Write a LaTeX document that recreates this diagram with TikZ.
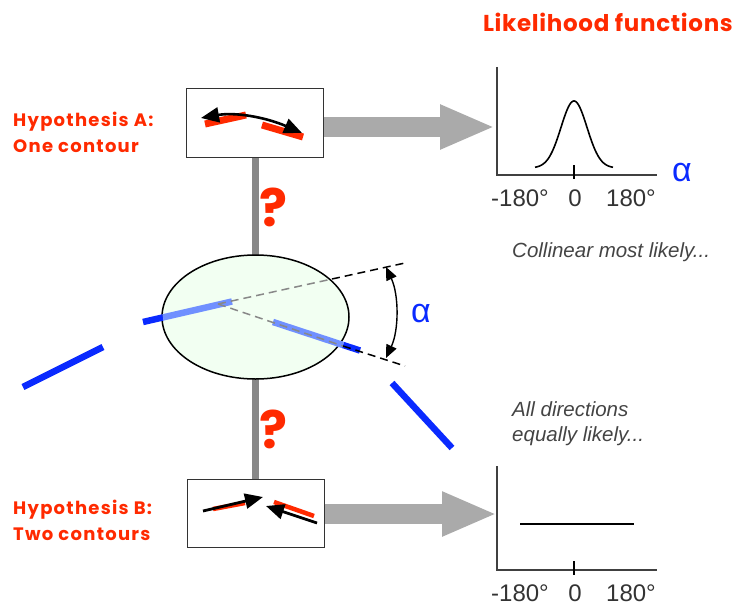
\documentclass[tikz,border=0pt]{standalone}
\usepackage{fontspec}
\setmainfont{Liberation Sans}
\newfontfamily\hypfont[LetterSpace=7]{Poppins}
\newfontfamily\titlefont[LetterSpace=3]{Poppins}
\newfontfamily\qfont{Poppins}
\usetikzlibrary{arrows.meta,calc,shapes.geometric}
\definecolor{hred}{HTML}{FF2A00}
\definecolor{sblue}{HTML}{0A2AFF}
\definecolor{lblue}{HTML}{7090FF}
\definecolor{agray}{HTML}{AAAAAA}
\definecolor{bgray}{HTML}{888888}
\definecolor{tgray}{HTML}{444444}
\definecolor{egreen}{HTML}{F2FFF2}
\tikzset{
  hyp/.style={text=hred, font=\hypfont\bfseries\fontsize{18}{26}\selectfont, align=left, anchor=west, inner sep=0pt},
  hbox/.style={draw=black!80, line width=1pt, fill=white, minimum width=137pt, minimum height=68pt, inner sep=0pt},
  bigarrow/.style={draw=agray, line width=20pt, -{Triangle[length=55pt,width=41pt]}},
  vbar/.style={draw=bgray, line width=7pt},
  qmark/.style={text=hred, font=\qfont\bfseries\fontsize{52}{52}\selectfont},
  seg/.style={line width=6.5pt},
  axis/.style={draw=black!75, line width=1.2pt},
  tick/.style={draw=black, line width=1.6pt},
  ticklab/.style={font=\fontsize{24}{24}\selectfont, text=black!80},
  alphalab/.style={text=sblue, font=\fontsize{34}{34}\selectfont},
  note/.style={font=\itshape\fontsize{20.5}{25}\selectfont, text=tgray, align=left, anchor=west, inner sep=0pt},
  dashline/.style={line width=1.5pt, dash pattern=on 8pt off 5pt},
  barrow/.style={line width=2.8pt, -{Triangle[length=18pt,width=15pt]}},
}
\begin{document}
\begin{tikzpicture}[x=1pt,y=-1pt]
\useasboundingbox (0,0) rectangle (735,607);

% title
\node[text=hred, font=\titlefont\bfseries\fontsize{23}{23}\selectfont, anchor=east, inner sep=0pt] (title) at (733,22) {Likelihood functions};

% hypothesis labels
\node[hyp] (hypA) at (13,132) {Hypothesis A:\\One contour};
\node[hyp] (hypB) at (13,520) {Hypothesis B:\\Two contours};

% vertical bars
\coordinate (barAtop) at (255.5,157);
\coordinate (barAbot) at (255.5,260);
\coordinate (barBtop) at (255.5,375);
\coordinate (barBbot) at (255.5,479);
\draw[vbar] (barAtop) -- (barAbot);
\draw[vbar] (barBtop) -- (barBbot);

% boxes
\node[hbox] (boxA) at (254.5,123) {};
\node[hbox] (boxB) at (255.5,513) {};

% question marks
\node[qmark] (q1) at (273,207) {?};
\node[qmark] (q2) at (273,429) {?};

% big gray arrows
\coordinate (arrA) at (495,127);
\coordinate (arrB) at (497,514);
\draw[bigarrow] (boxA.east |- arrA) -- (arrA);
\draw[bigarrow] (boxB.east |- arrB) -- (arrB);

% box A content
\draw[hred, line width=7pt] (205,124) -- (246,115);
\draw[hred, line width=7pt] (262,125) -- (303,137);
\coordinate (a1) at (201,118);
\coordinate (a2) at (302,133);
\draw[black, line width=2.6pt, {Triangle[length=18pt,width=15pt]}-{Triangle[length=18pt,width=15pt]}] (a1) .. controls (235,112) and (265,117) .. (a2);

% box B content
\draw[hred, line width=4.5pt] (213,509) -- (245,503);
\draw[barrow] (203,511) -- (263,497);
\draw[hred, line width=4.5pt] (274,502) -- (314,516);
\draw[barrow] (317,523) -- (266,506);

% ellipse
\node[draw=black, line width=1.5pt, fill=egreen, ellipse, minimum width=187pt, minimum height=124pt, inner sep=0pt] (ell) at (255.5,317) {};

% blue contour segments
\draw[sblue, seg] (23,387) -- (103,347);
\draw[sblue, seg] (392,383) -- (452,448);
\draw[sblue, seg] (143,322) -- (163,317.4);
\draw[lblue, seg] (163,317.4) -- (232,301.5);
\draw[sblue, seg] (343,345) -- (360,350.5);
\draw[lblue, seg] (273,322) -- (343,345);

% dashed lines
\coordinate (vtx) at (218,304);
\coordinate (upEnd) at (405,263);
\coordinate (loEnd) at (405,366);
\coordinate (upE) at (332,279);
\coordinate (loE) at (343,346);
\draw[bgray, dashline] (vtx) -- (upE);
\draw[black, dashline] (upE) -- (upEnd);
\draw[bgray, dashline] (vtx) -- (loE);
\draw[black, dashline] (loE) -- (loEnd);

% angle arc
\coordinate (arc1) at (386,267);
\coordinate (arc2) at (386,358);
\draw[black, line width=1.4pt, {Triangle[length=13pt,width=11pt]}-{Triangle[length=13pt,width=11pt]}] (arc1) .. controls (399,295) and (399,330) .. (arc2);
\node[alphalab] (alpha1) at (421,314) {α};

% plot A
\coordinate (oA) at (497,175);
\draw[axis] (497,67) -- (oA) -- (657,175);
\draw[tick] (574,165) -- (574,179);
\draw[black, line width=1.6pt, domain=535:613, samples=80, smooth] plot (\x, {168-67*exp(-((\x-574)/13)^2/2)});
\node[ticklab] (la1) at (520,198) {-180°};
\node[ticklab] (la2) at (575,198) {0};
\node[ticklab] (la3) at (631,198) {180°};
\node[alphalab] (alpha2) at (682,173) {α};

% plot B
\coordinate (oB) at (497,570);
\draw[axis] (497,466) -- (oB) -- (657,570);
\draw[tick] (574,561) -- (574,575);
\draw[black, line width=1.6pt] (520,524) -- (634,524);
\node[ticklab] (lb1) at (520,593) {-180°};
\node[ticklab] (lb2) at (575,593) {0};
\node[ticklab] (lb3) at (631,593) {180°};

% notes
\node[note] (n1) at (512,252) {Collinear most likely...};
\node[note] (n2) at (512,424) {All directions\\equally likely...};
\end{tikzpicture}
\end{document}
